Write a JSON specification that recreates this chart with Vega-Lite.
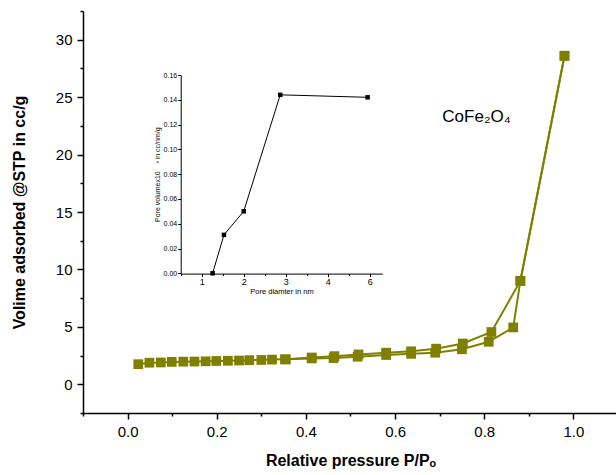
{
  "$schema": "https://vega.github.io/schema/vega-lite/v6.json",
  "width": 535,
  "height": 402,
  "autosize": {"type": "none"},
  "padding": {"left": 83, "top": 11, "right": 0, "bottom": 62},
  "background": "white",
  "config": {
    "view": {"stroke": null},
    "axis": {"grid": false, "domainColor": "black", "tickColor": "black", "labelColor": "black", "titleColor": "black"}
  },
  "datasets": {
    "iso": [
      {"branch": "ads", "i": 1, "p": 0.024, "v": 1.75},
      {"branch": "ads", "i": 2, "p": 0.049, "v": 1.88},
      {"branch": "ads", "i": 3, "p": 0.0745, "v": 1.9},
      {"branch": "ads", "i": 4, "p": 0.099, "v": 1.95},
      {"branch": "ads", "i": 5, "p": 0.125, "v": 1.97},
      {"branch": "ads", "i": 6, "p": 0.15, "v": 1.98},
      {"branch": "ads", "i": 7, "p": 0.175, "v": 2.0},
      {"branch": "ads", "i": 8, "p": 0.199, "v": 2.03},
      {"branch": "ads", "i": 9, "p": 0.225, "v": 2.05},
      {"branch": "ads", "i": 10, "p": 0.25, "v": 2.07},
      {"branch": "ads", "i": 11, "p": 0.273, "v": 2.1},
      {"branch": "ads", "i": 12, "p": 0.3, "v": 2.12},
      {"branch": "ads", "i": 13, "p": 0.324, "v": 2.15},
      {"branch": "ads", "i": 14, "p": 0.353, "v": 2.17},
      {"branch": "ads", "i": 15, "p": 0.413, "v": 2.25},
      {"branch": "ads", "i": 16, "p": 0.462, "v": 2.28},
      {"branch": "ads", "i": 17, "p": 0.516, "v": 2.4},
      {"branch": "ads", "i": 18, "p": 0.58, "v": 2.55},
      {"branch": "ads", "i": 19, "p": 0.636, "v": 2.65},
      {"branch": "ads", "i": 20, "p": 0.69, "v": 2.75},
      {"branch": "ads", "i": 21, "p": 0.75, "v": 3.05},
      {"branch": "ads", "i": 22, "p": 0.81, "v": 3.7},
      {"branch": "ads", "i": 23, "p": 0.865, "v": 4.95},
      {"branch": "ads", "i": 24, "p": 0.881, "v": 9.0},
      {"branch": "ads", "i": 25, "p": 0.98, "v": 28.6},
      {"branch": "des", "i": 1, "p": 0.98, "v": 28.6},
      {"branch": "des", "i": 2, "p": 0.881, "v": 9.0},
      {"branch": "des", "i": 3, "p": 0.816, "v": 4.55},
      {"branch": "des", "i": 4, "p": 0.752, "v": 3.55},
      {"branch": "des", "i": 5, "p": 0.692, "v": 3.1},
      {"branch": "des", "i": 6, "p": 0.636, "v": 2.87},
      {"branch": "des", "i": 7, "p": 0.58, "v": 2.75},
      {"branch": "des", "i": 8, "p": 0.518, "v": 2.6},
      {"branch": "des", "i": 9, "p": 0.464, "v": 2.45},
      {"branch": "des", "i": 10, "p": 0.413, "v": 2.33},
      {"branch": "des", "i": 11, "p": 0.355, "v": 2.17}
    ],
    "pore": [
      {"d": 1.26, "pv": 0.0},
      {"d": 1.53, "pv": 0.031},
      {"d": 2.0, "pv": 0.05},
      {"d": 2.87, "pv": 0.144},
      {"d": 4.95, "pv": 0.142}
    ],
    "lbl": [
      {"label": "CoFe₂O₄", "x": 0.706, "y": 23.3}
    ]
  },
  "layer": [
    {
      "layer": [
        {
          "data": {"name": "iso"},
          "mark": {"type": "line", "color": "#808000", "strokeWidth": 2},
          "encoding": {
            "x": {
              "field": "p", "type": "quantitative",
              "scale": {"domain": [-0.1, 1.1], "nice": false, "zero": false},
              "axis": {
                "orient": "bottom",
                "values": [0, 0.2, 0.4, 0.6, 0.8, 1.0],
                "format": ".1f",
                "tickSize": 6,
                "tickWidth": 1.5, "domainWidth": 1.5,
                "labelFont": "Liberation Sans", "labelFontSize": 15, "labelPadding": 5,
                "labelOverlap": false, "labelFlush": false,
                "title": "Relative pressure P/Pₒ",
                "titleFont": "Liberation Sans", "titleFontSize": 16, "titleFontWeight": "bold", "titlePadding": 13
              }
            },
            "y": {
              "field": "v", "type": "quantitative",
              "scale": {"domain": [-2.5, 32.5], "nice": false, "zero": false},
              "axis": {
                "orient": "left",
                "values": [0, 5, 10, 15, 20, 25, 30],
                "tickSize": 6,
                "tickWidth": 1.5, "domainWidth": 1.5,
                "labelFont": "Liberation Sans", "labelFontSize": 15, "labelPadding": 5,
                "labelOverlap": false, "labelFlush": false,
                "title": "Volime adsorbed @STP in cc/g",
                "titleFont": "Liberation Sans", "titleFontSize": 16, "titleFontWeight": "bold", "titlePadding": 28
              }
            },
            "detail": {"field": "branch"},
            "order": {"field": "i", "type": "quantitative"}
          }
        },
        {
          "data": {"name": "iso"},
          "mark": {"type": "square", "color": "#808000", "size": 95, "opacity": 1},
          "encoding": {
            "x": {"field": "p", "type": "quantitative"},
            "y": {"field": "v", "type": "quantitative"}
          }
        }
      ]
    },
    {
      "data": {"name": "lbl"},
      "mark": {"type": "text", "align": "left", "baseline": "middle", "font": "Liberation Sans", "fontSize": 17, "color": "black"},
      "encoding": {
        "x": {
          "field": "x", "type": "quantitative",
          "scale": {"domain": [-0.1, 1.1], "nice": false, "zero": false},
          "axis": {"orient": "bottom", "values": [-0.1, 0.1, 0.3, 0.5, 0.7, 0.9], "labels": false, "domain": false, "tickSize": 3, "tickWidth": 1.5, "title": null}
        },
        "y": {
          "field": "y", "type": "quantitative",
          "scale": {"domain": [-2.5, 32.5], "nice": false, "zero": false},
          "axis": {"orient": "left", "values": [-2.5, 2.5, 7.5, 12.5, 17.5, 22.5, 27.5, 32.5], "labels": false, "domain": false, "tickSize": 3, "tickWidth": 1.5, "title": null}
        },
        "text": {"field": "label"}
      }
    },
    {
      "data": {"name": "pore"},
      "layer": [
        {
          "mark": {"type": "line", "color": "black", "strokeWidth": 1},
          "encoding": {
            "x": {
              "field": "d", "type": "quantitative",
              "scale": {"domain": [0.5, 5.3], "nice": false, "zero": false, "range": [97.7, 299.3]},
              "axis": {
                "orient": "bottom", "offset": -139.4,
                "values": [0.5, 1, 1.5, 2, 2.5, 3, 3.5, 4, 4.5, 5],
                "labelExpr": "datum.value % 1 != 0 ? '' : (datum.value == 5 ? '6' : format(datum.value, 'd'))",
                "tickSize": {"condition": {"test": "datum.value % 1 != 0", "value": 2}, "value": 3},
                "tickWidth": 1, "domainWidth": 1,
                "labelFont": "Liberation Sans", "labelFontSize": 9, "labelPadding": 1,
                "labelOverlap": false, "labelFlush": false,
                "title": "Pore diamter in nm",
                "titleFont": "Liberation Sans Narrow, Liberation Sans", "titleFontSize": 7.5, "titleFontWeight": "normal", "titlePadding": 1
              }
            },
            "y": {
              "field": "pv", "type": "quantitative",
              "scale": {"domain": [0, 0.16], "nice": false, "zero": false, "range": [262.3, 64]},
              "axis": {
                "orient": "left", "offset": -97.7,
                "values": [0, 0.01, 0.02, 0.03, 0.04, 0.05, 0.06, 0.07, 0.08, 0.09, 0.1, 0.11, 0.12, 0.13, 0.14, 0.15, 0.16],
                "labelExpr": "round(datum.value*100)%2 != 0 ? '' : format(datum.value, '.2f')",
                "tickSize": {"condition": {"test": "round(datum.value*100)%2 != 0", "value": 1.5}, "value": 3},
                "tickWidth": 1, "domainWidth": 1,
                "labelFont": "Liberation Sans", "labelFontSize": 7, "labelPadding": 1,
                "labelOverlap": false, "labelFlush": false,
                "title": "Pore volumex10\u00a0\u00a0\u00a0\u00a0³ in cc/nm/g",
                "titleFont": "Liberation Sans Narrow, Liberation Sans", "titleFontSize": 7, "titleFontWeight": "normal", "titlePadding": 3
              }
            }
          }
        },
        {
          "mark": {"type": "square", "color": "black", "size": 20, "opacity": 1},
          "encoding": {
            "x": {"field": "d", "type": "quantitative"},
            "y": {"field": "pv", "type": "quantitative"}
          }
        }
      ]
    }
  ],
  "resolve": {
    "scale": {"x": "independent", "y": "independent"},
    "axis": {"x": "independent", "y": "independent"}
  }
}
